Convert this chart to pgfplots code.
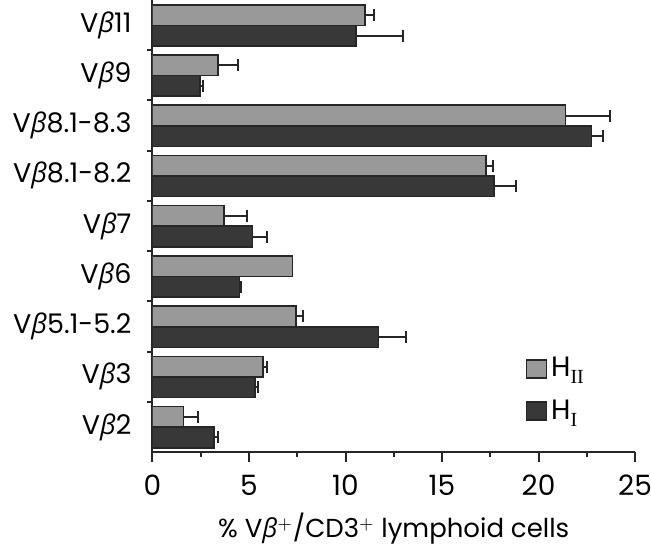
\documentclass[border=0pt]{standalone}
\usepackage{fontspec}
\setmainfont{Poppins}
\newfontfamily\grk{Open Sans}
\newfontfamily\serif{Liberation Serif}
\usepackage{pgfplots}
\pgfplotsset{compat=1.18}
\newcommand{\vb}{V{\grk\itshape β}}
\newcommand{\sub}[1]{\raisebox{-3.5pt}{\fontsize{10}{10}\selectfont\serif #1}}
\pgfplotstableread{
x y ex
1.60 0.20 0.77
5.74 1.20 0.18
7.44 2.20 0.37
3.72 4.20 1.16
17.28 5.20 0.38
21.40 6.20 2.30
3.40 7.20 1.05
11.00 8.20 0.50
}\hii
\pgfplotstableread{
x y
7.26 3.20
}\hiinoerr
\pgfplotstableread{
x y ex
3.20 -0.21 0.18
5.31 0.79 0.17
11.70 1.79 1.43
4.50 2.79 0.08
5.19 3.79 0.73
17.70 4.79 1.13
22.75 5.79 0.60
2.46 6.79 0.14
10.55 7.79 2.45
}\hi
\begin{document}
\begin{tikzpicture}
\begin{axis}[
  scale only axis, width=241.25pt, height=226pt,
  xmin=0, xmax=25, ymin=-0.5, ymax=8.5,
  axis x line*=bottom, axis y line*=left,
  xtick={0,5,...,25}, minor x tick num=1,
  ytick={0,...,8},
  yticklabels={\vb2,\vb3,\vb5.1-5.2,\vb6,\vb7,\vb8.1-8.2,\vb8.1-8.3,\vb9,\vb11},
  minor ytick={0.5,1.5,...,7.5},
  major y tick style={draw=none},
  tick align=outside,
  major tick length=5pt, minor tick length=2.5pt,
  axis line style={line width=1pt, black!85},
  tick style={line width=1pt, black!85},
  /pgf/number format/assume math mode=true,
  xticklabel style={font=\fontsize{14}{16}\selectfont, yshift=-3pt},
  yticklabel style={font=\fontsize{13.5}{16}\selectfont, xshift=-2pt},
  xlabel={\% \vb$^+$/CD3$^+$ lymphoid cells},
  xlabel style={font=\fontsize{13}{15}\selectfont, yshift=-2pt},
  legend style={at={(axis cs:19.0,1.55)}, anchor=north west, draw=none, fill=none,
    font=\fontsize{14}{16}\selectfont, row sep=6pt, legend cell align=left},
  legend image code/.code={\draw[#1, line width=0.8pt] (0pt,-4.5pt) rectangle (10pt,4.5pt);},
]
\addplot[xbar, bar shift=0pt, bar width=0.41, fill=black!40, draw=black!85, line width=0.8pt,
  error bars/.cd, x dir=plus, x explicit, error mark=|,
  error bar style={line width=1pt, black!85},
  error mark options={line width=1pt, black!85, mark size=3pt}]
  table[x=x, y=y, x error=ex] {\hii};
\addlegendentry{H\sub{II}}
\addplot[xbar, bar shift=0pt, bar width=0.41, fill=black!78, draw=black!85, line width=0.8pt,
  error bars/.cd, x dir=plus, x explicit, error mark=|,
  error bar style={line width=1pt, black!85},
  error mark options={line width=1pt, black!85, mark size=3pt}]
  table[x=x, y=y, x error=ex] {\hi};
\addlegendentry{H\sub{I}}
\addplot[forget plot, xbar, bar shift=0pt, bar width=0.41, fill=black!40, draw=black!85, line width=0.8pt]
  table[x=x, y=y] {\hiinoerr};
\coordinate (O) at (rel axis cs:0,0);
\end{axis}
\pgfresetboundingbox
\path (O) ++(-76.25pt,-48pt) rectangle ++(325.5pt,274pt);
\end{tikzpicture}
\end{document}
